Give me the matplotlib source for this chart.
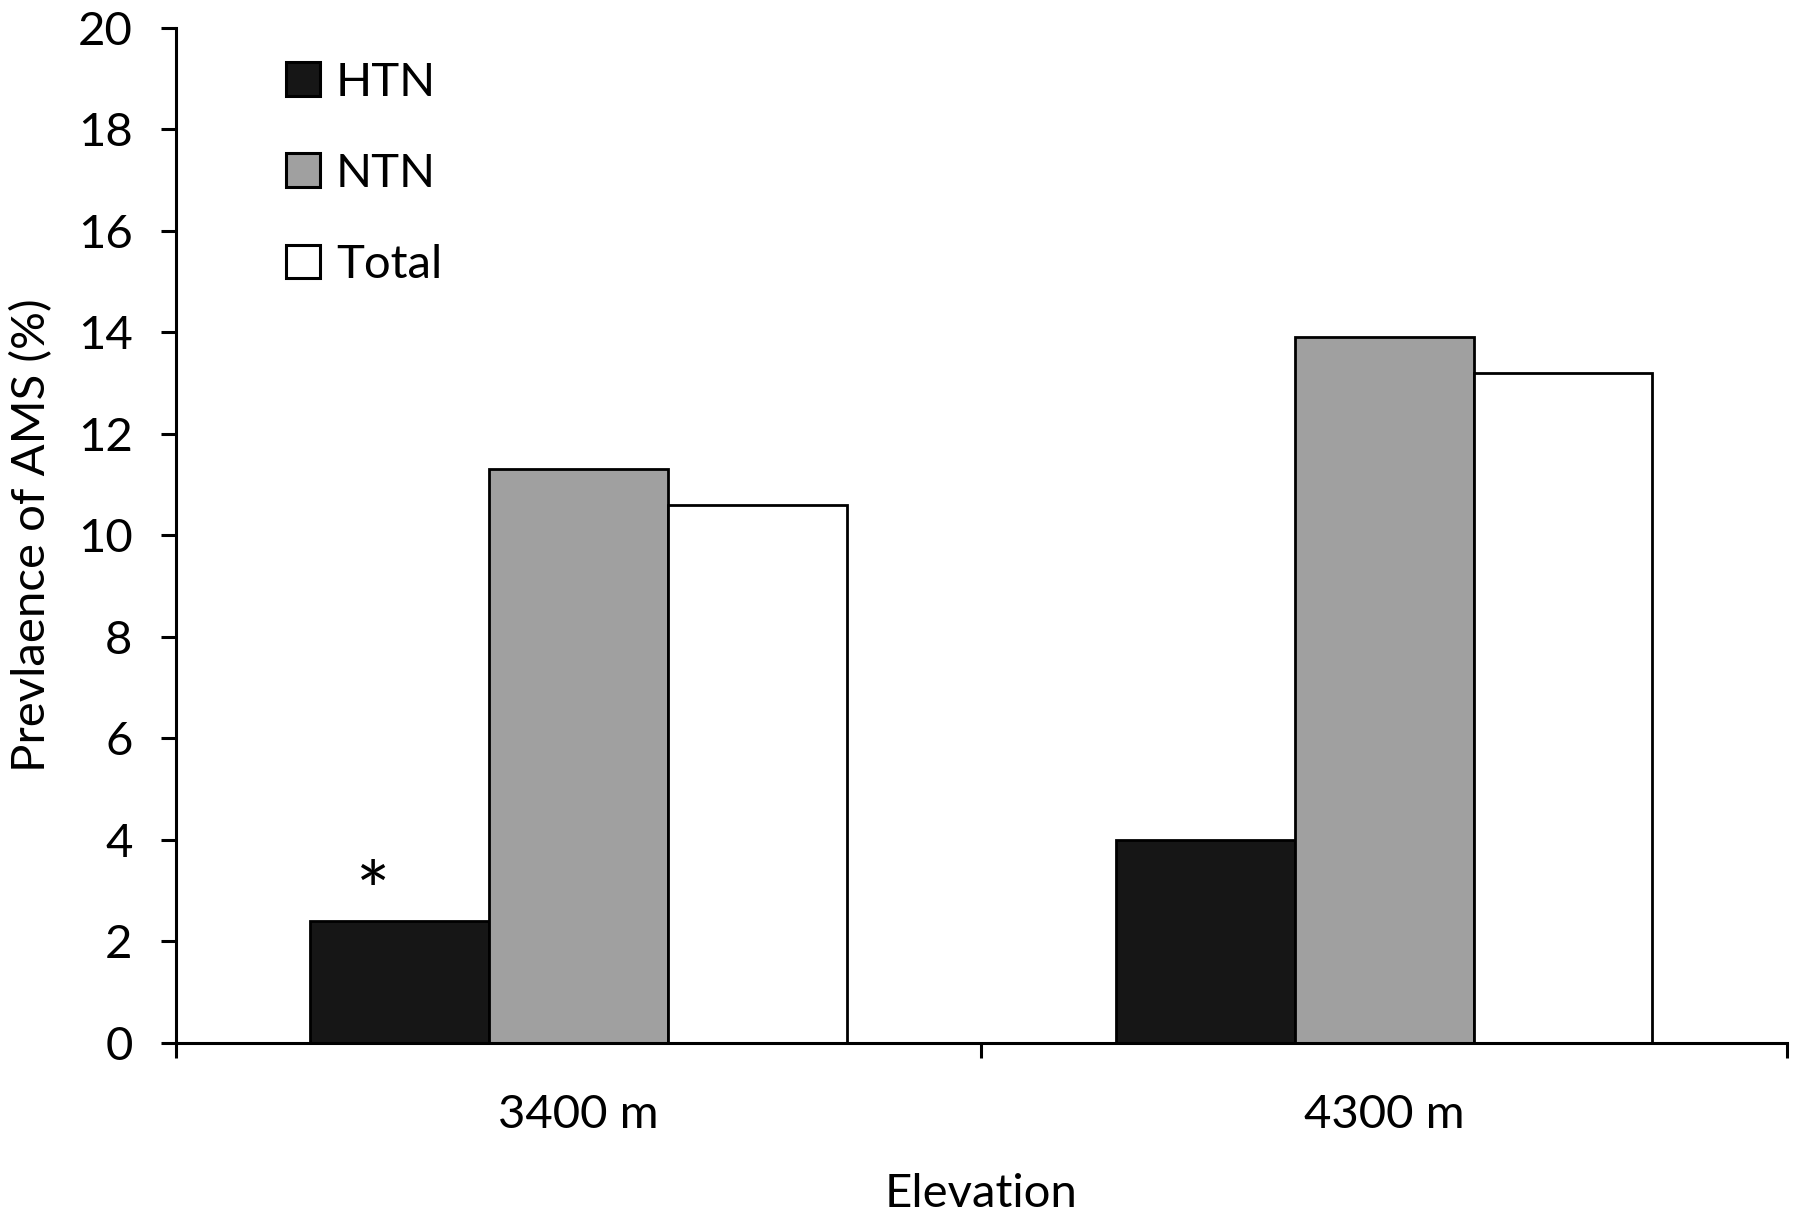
import numpy as np
import matplotlib
matplotlib.use("Agg")
from matplotlib import pyplot as plt

plt.rcParams['font.family'] = ['Lato', 'DejaVu Sans']

elevations = ["3400 m", "4300 m"]
groups = ["HTN", "NTN", "Total"]
htn = [2.4, 4.0]
ntn = [11.3, 13.9]
total = [10.6, 13.2]
colors = ["#161616", "#a0a0a0", "#ffffff"]


def main():
    fig = plt.figure(figsize=(18, 12.15), dpi=100)
    ax = fig.add_axes([0.0976, 0.1419, 0.8952, 0.8354])
    x = np.arange(len(elevations))
    width = 0.222
    series = [htn, ntn, total]
    for i in range(len(series)):
        ax.bar(x + (i - 1) * width, series[i], width, color=colors[i],
               edgecolor="black", linewidth=2.0, label=groups[i], zorder=2)

    # significance mark over HTN at 3400 m, a bit left of the bar centre
    ax.text(x[0] - width - 0.034, htn[0] - 0.27, "*", ha="center", va="bottom",
            fontsize=58, color="black")

    ax.set_xlim(-0.5, 1.5)
    ax.set_ylim(0, 20)
    ax.set_yticks(range(0, 21, 2))
    ax.set_xticks(x)
    ax.set_xticklabels(elevations)
    ax.set_xticks([-0.5, 0.5, 1.5], minor=True)
    ax.tick_params(axis="x", which="major", length=0, pad=37, labelsize=34)
    ax.tick_params(axis="x", which="minor", length=11, width=2.2, direction="out")
    ax.tick_params(axis="y", length=11, width=2.2, pad=20, labelsize=34)

    for side in ["top", "right"]:
        ax.spines[side].set_visible(False)
    for side in ["left", "bottom"]:
        ax.spines[side].set_linewidth(2.2)

    ax.set_ylabel("Prevlaence of AMS (%)", fontsize=34)
    ax.set_xlabel("Elevation", fontsize=34)
    ax.yaxis.set_label_coords(-0.076, 0.5)
    ax.xaxis.set_label_coords(0.5, -0.128)

    leg = ax.legend(loc="upper left", bbox_to_anchor=(0.0567, 0.985), frameon=False,
                    fontsize=34, handlelength=0.72, handleheight=0.72,
                    handletextpad=0.34, labelspacing=1.04, borderaxespad=0)
    for patch in leg.get_patches():
        patch.set_linewidth(2.2)

    fig.savefig("out.png", dpi=100)


if __name__ == "__main__":
    main()
